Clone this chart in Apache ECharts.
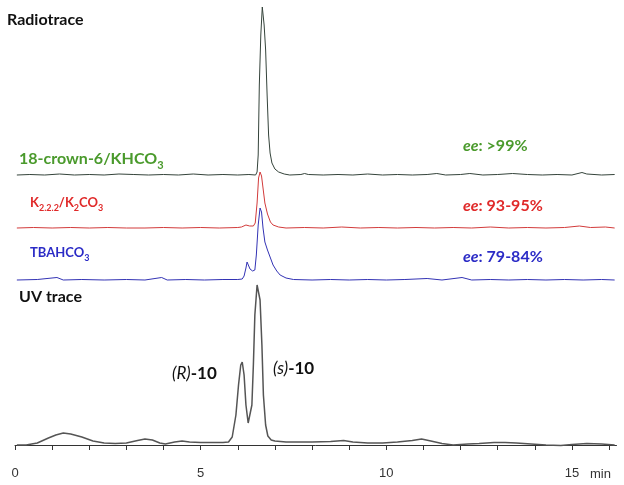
<!DOCTYPE html>
<html>
<head>
<meta charset="utf-8">
<script src="https://cdn.jsdelivr.net/npm/echarts@6/dist/echarts.min.js"></script>
<style>html,body{margin:0;padding:0;background:#fff}#c{width:624px;height:485px}</style>
</head>
<body>
<div id="c"></div>
<script>
// ---- data (time in min, signal above each trace's baseline) ----
var xTicks = [0, 5, 10, 15];
var greenTrace = [[0.05,0],[0.4,0.5],[0.8,0],[1.2,1],[1.6,0],[2.0,0.5],[2.4,0],[2.8,1],[3.2,0.5],[3.6,0],[4.0,0.5],[4.4,0],[4.8,1],[5.2,0],[5.6,0.5],[6.0,0],[6.3,0.5],[6.48,0],[6.52,3],[6.55,20],[6.58,90],[6.62,140],[6.66,168],[6.68,170],[6.71,150],[6.75,125],[6.79,80],[6.83,40],[6.87,22],[6.92,12],[7.0,6],[7.1,3],[7.25,1],[7.4,0],[7.7,0.5],[7.8,1.5],[7.9,0.5],[8.3,0],[8.7,0.5],[9.1,0],[9.5,1],[9.9,0],[10.3,0.5],[10.7,0],[11.1,0.5],[11.36,1.5],[11.6,0],[12.0,0.5],[12.25,1.5],[12.6,0],[13.0,0.5],[13.4,1.5],[13.8,0.5],[14.2,0],[14.6,0.5],[15.0,0],[15.27,2.5],[15.4,1],[15.8,0],[16.15,0.5]];
var redTrace = [[0.05,0],[0.5,0.5],[1.0,0],[1.5,0.5],[2.0,0],[2.5,0.5],[3.0,0],[3.5,0],[4.0,0.5],[4.5,0],[5.0,0.5],[5.5,0],[6.0,0.5],[6.1,1],[6.22,3],[6.32,2],[6.42,2],[6.47,5],[6.52,25],[6.56,50],[6.60,56],[6.64,52],[6.68,40],[6.73,25],[6.80,14],[6.88,6],[6.95,3],[7.1,1],[7.3,0],[7.8,0.5],[8.3,0],[8.8,1],[9.3,0],[9.8,0.5],[10.3,0],[10.8,0.5],[11.3,0],[11.8,0.5],[12.3,0],[12.8,1],[13.3,0],[13.8,0.5],[14.3,0],[14.8,0.5],[15.2,2],[15.5,0.5],[15.9,1],[16.15,0]];
var blueTrace = [[0.05,0],[0.6,0.5],[1.13,2.5],[1.3,0],[1.8,0.5],[2.4,0],[3.0,0.5],[3.5,0],[3.95,2.5],[4.1,0],[4.6,0.5],[5.1,0],[5.6,0.5],[6.0,0.5],[6.12,1],[6.17,4],[6.22,12],[6.25,18],[6.28,17],[6.33,11],[6.40,9],[6.46,10],[6.50,25],[6.55,55],[6.60,72],[6.64,68],[6.68,52],[6.73,38],[6.80,30],[6.87,23],[6.95,15],[7.05,9],[7.14,5],[7.3,2],[7.5,0.5],[8.0,0],[8.5,0.5],[9.0,0],[9.5,0.5],[10.0,0],[10.5,0.5],[11.1,1.5],[11.5,0],[12.04,2.5],[12.3,0],[12.8,0.5],[13.3,0],[13.8,0.5],[14.3,0],[14.8,0.5],[15.3,0],[15.8,0.5],[16.15,0]];
var uvTrace = [[0.05,0],[0.3,0],[0.6,2],[0.9,7],[1.1,10],[1.3,12],[1.5,11],[1.8,8],[2.1,4],[2.4,2],[2.7,1.5],[3.0,2],[3.3,4.5],[3.5,6],[3.7,5],[3.9,2],[4.05,1],[4.3,3],[4.5,4],[4.7,3],[5.0,2.5],[5.3,2.5],[5.6,2.5],[5.75,3],[5.85,8],[5.95,30],[6.02,60],[6.08,80],[6.12,83],[6.17,70],[6.22,40],[6.28,22],[6.33,20],[6.38,40],[6.42,80],[6.46,130],[6.52,160],[6.55,162],[6.60,145],[6.65,100],[6.69,50],[6.75,20],[6.81,9],[6.9,5],[7.0,4],[7.3,3],[7.6,3],[8.0,3],[8.5,3.5],[8.85,4.5],[9.1,3],[9.5,2],[9.9,2],[10.3,3],[10.7,4.5],[10.95,6],[11.2,4],[11.5,1.5],[11.8,0],[12.2,1],[12.5,1.5],[12.9,2.5],[13.2,2.5],[13.5,2],[13.9,1],[14.3,0],[14.7,-0.5],[15.0,0.5],[15.4,1.5],[15.8,1],[16.15,0]];

var chart = echarts.init(document.getElementById('c'));
var XMIN = 0, XMAX = 16.2;
function hiddenX(i){return {type:'value',gridIndex:i,min:XMIN,max:XMAX,show:false};}
function hiddenY(i,mn,mx){return {type:'value',gridIndex:i,min:mn,max:mx,show:false};}
var TXT = 'Lato, "Open Sans", sans-serif';
var subRich = function(color,size,subSize){
  return {
    n:{fontFamily:TXT,fontWeight:'bold',fontSize:size,fill:color,verticalAlign:'bottom',padding:[0,0,4,0]},
    s:{fontFamily:TXT,fontWeight:'bold',fontSize:subSize,fill:color,verticalAlign:'bottom'}
  };
};
var eeRich = function(color){
  return {
    i:{fontFamily:TXT,fontWeight:'bold',fontStyle:'italic',fontSize:16,fill:color},
    n:{fontFamily:TXT,fontWeight:'bold',fontSize:16,fill:color}
  };
};
var labRich = {
  i:{fontFamily:TXT,fontStyle:'italic',fontSize:17,fill:'#111'},
  b:{fontFamily:TXT,fontWeight:'bold',fontSize:17,fill:'#111'}
};

chart.setOption({
  animation:false,
  grid:[
    {left:15,right:7.5,top:5,height:170},
    {left:15,right:7.5,top:58,height:170},
    {left:15,right:7.5,top:110,height:170},
    {left:15,right:7.5,top:275,height:185}
  ],
  xAxis:[hiddenX(0),hiddenX(1),hiddenX(2),{
    type:'value',gridIndex:3,min:XMIN,max:XMAX,interval:1,
    axisLine:{show:true,lineStyle:{color:'#333',width:1}},
    axisTick:{show:true,length:5,lineStyle:{color:'#333'}},
    splitLine:{show:false},
    axisLabel:{margin:7,color:'#333',fontFamily:'"Liberation Sans", Arial, sans-serif',fontSize:13,
      showMaxLabel:false,
      formatter:function(v){return xTicks.indexOf(v)>=0?String(v):'';}}
  }],
  yAxis:[hiddenY(0,0,170),hiddenY(1,0,170),hiddenY(2,0,170),hiddenY(3,-15,170)],
  series:[
    {type:'line',xAxisIndex:0,yAxisIndex:0,data:greenTrace,showSymbol:false,clip:false,lineStyle:{color:'#34433a',width:1}},
    {type:'line',xAxisIndex:1,yAxisIndex:1,data:redTrace,showSymbol:false,clip:false,lineStyle:{color:'#d23a3a',width:1}},
    {type:'line',xAxisIndex:2,yAxisIndex:2,data:blueTrace,showSymbol:false,clip:false,lineStyle:{color:'#3232b4',width:1}},
    {type:'line',xAxisIndex:3,yAxisIndex:3,data:uvTrace,showSymbol:false,clip:false,lineStyle:{color:'#555',width:1.5}}
  ],
  graphic:[
    {type:'text',left:7,top:12,style:{text:'Radiotrace',font:'bold 16px '+TXT,fill:'#111'}},
    {type:'text',left:19,top:289,style:{text:'UV trace',font:'bold 16px '+TXT,fill:'#111'}},
    {type:'text',left:19,top:151,style:{text:'{n|18-crown-6/KHCO}{s|3}',rich:subRich('#4a9a2c',16,11)}},
    {type:'text',left:30,top:196,style:{text:'{n|K}{s|2.2.2}{n|/K}{s|2}{n|CO}{s|3}',rich:subRich('#e02a2a',13,9)}},
    {type:'text',left:30,top:246,style:{text:'{n|TBAHCO}{s|3}',rich:subRich('#2b2bc6',13,9)}},
    {type:'text',left:463,top:138,style:{text:'{i|ee}{n|: >99%}',rich:eeRich('#4a9a2c')}},
    {type:'text',left:463,top:198,style:{text:'{i|ee}{n|: 93-95%}',rich:eeRich('#e02a2a')}},
    {type:'text',left:463,top:249,style:{text:'{i|ee}{n|: 79-84%}',rich:eeRich('#2b2bc6')}},
    {type:'text',left:172,top:365,style:{text:'{i|(R)}{b|-10}',rich:labRich}},
    {type:'text',left:273,top:360,style:{text:'{i|(s)}{b|-10}',rich:labRich}},
    {type:'text',left:590,top:468,style:{text:'min',font:'13px "Liberation Sans", Arial, sans-serif',fill:'#333'}}
  ]
});
</script>
</body>
</html>
